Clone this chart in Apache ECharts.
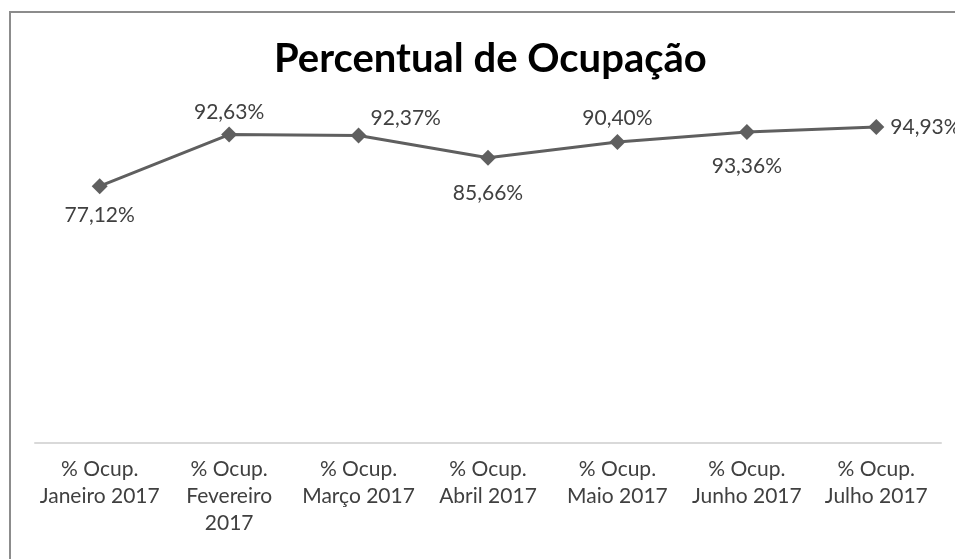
<!DOCTYPE html>
<html>
<head>
<meta charset="utf-8">
<script src="https://cdn.jsdelivr.net/npm/echarts@6/dist/echarts.min.js"></script>
<style>
  html, body { margin: 0; padding: 0; background: #fff; overflow: hidden; }
</style>
</head>
<body>
<div id="chart" style="width: 955px; height: 559px;"></div>
<script>
// dados do gráfico
var categorias = [
  '% Ocup.\nJaneiro 2017',
  '% Ocup.\nFevereiro\n2017',
  '% Ocup.\nMarço 2017',
  '% Ocup.\nAbril 2017',
  '% Ocup.\nMaio 2017',
  '% Ocup.\nJunho 2017',
  '% Ocup.\nJulho 2017'
]
var ocupacao = [77.12, 92.63, 92.37, 85.66, 90.40, 93.36, 94.93]

// posição de cada rótulo (como no Excel)
var posRotulo = [
  { position: 'bottom', distance: 11 },
  { position: 'top', distance: 4 },
  { position: 'right', distance: 4, offset: [0, -17] },
  { position: 'bottom', distance: 17 },
  { position: 'top', distance: 5 },
  { position: 'bottom', distance: 16 },
  { position: 'right', distance: 6 }
]

var fonte = 'Lato, "Noto Sans", sans-serif'

var myChart = echarts.init(document.getElementById('chart'))

var serieData = []
for (let i = 0; i < ocupacao.length; i++) {
  serieData.push({ value: ocupacao[i], label: posRotulo[i] })
}

myChart.setOption({
  animation: false,
  title: {
    text: 'Percentual de Ocupação',
    left: 269,
    top: 34,
    textStyle: { fontFamily: fonte, fontSize: 40, fontWeight: 'bold', color: '#000' }
  },
  graphic: [{
    type: 'rect',
    shape: { x: 10, y: 12, width: 1000, height: 600 },
    style: { fill: 'none', stroke: '#8c8c8c', lineWidth: 2 },
    silent: true
  }],
  grid: { left: 35, right: 14, top: 110, bottom: 116 },
  xAxis: {
    type: 'category',
    data: categorias,
    boundaryGap: true,
    axisLine: { lineStyle: { color: '#d9d9d9', width: 2 } },
    axisTick: { show: false },
    axisLabel: {
      margin: 13,
      fontFamily: fonte,
      fontSize: 21,
      lineHeight: 27,
      color: '#404040',
      interval: 0
    }
  },
  yAxis: {
    type: 'value',
    min: 0,
    max: 100,
    show: false,
    splitLine: { show: false }
  },
  series: [{
    name: '% Ocup.',
    type: 'line',
    data: serieData,
    symbol: 'diamond',
    symbolSize: 16,
    lineStyle: { color: '#5f5f5f', width: 3 },
    itemStyle: { color: '#5f5f5f' },
    label: {
      show: true,
      fontFamily: fonte,
      fontSize: 21,
      color: '#404040',
      formatter: function (p) { return p.value.toFixed(2).replace('.', ',') + '%' }
    }
  }]
})
</script>
</body>
</html>
